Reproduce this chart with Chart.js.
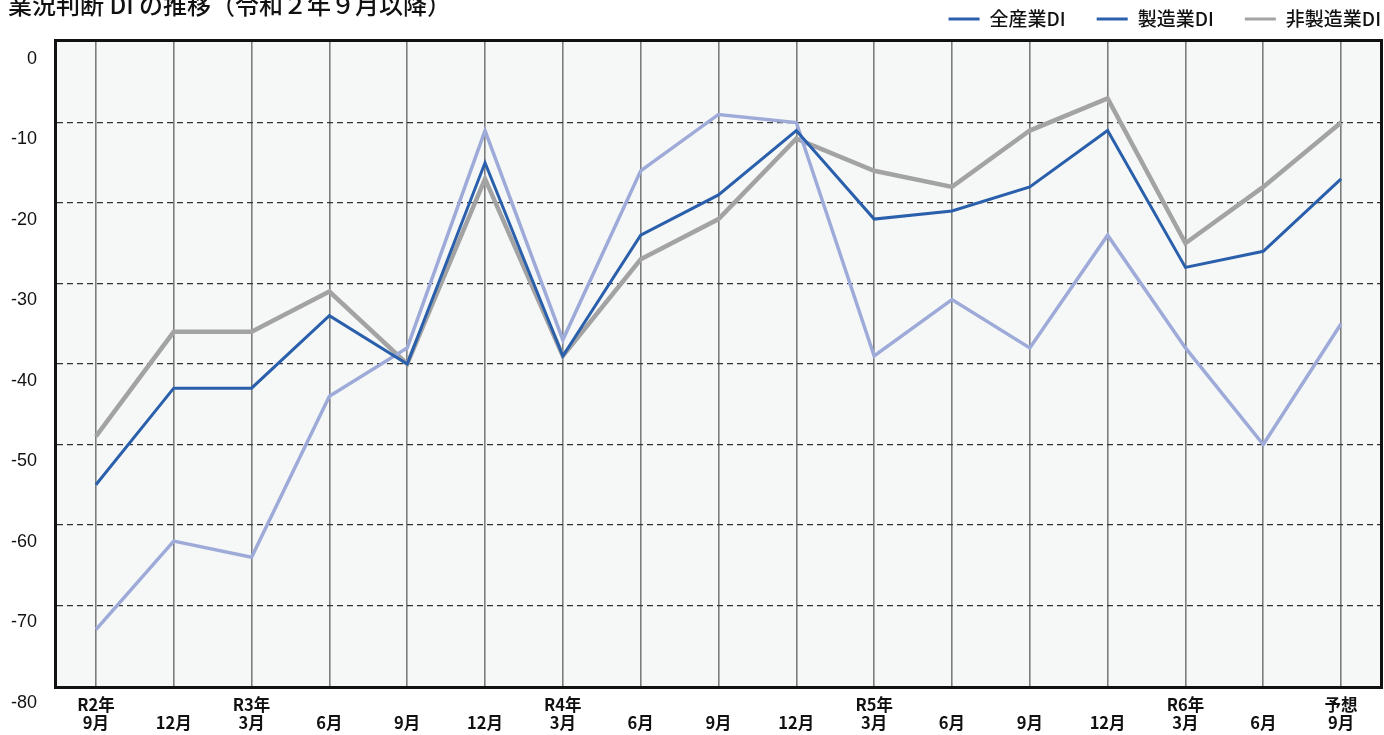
<!DOCTYPE html>
<html lang="ja">
<head>
<meta charset="utf-8">
<title>業況判断 DI の推移</title>
<script src="https://cdn.jsdelivr.net/npm/chart.js@4.4.1/dist/chart.umd.min.js"></script>
<style>
  html, body { margin: 0; padding: 0; background: #ffffff; }
  #wrap { position: relative; width: 1384px; height: 735px; }
</style>
</head>
<body>
<div id="wrap"><canvas id="chart" width="1384" height="735"></canvas></div>
<script>
// 四半期ごとの調査時点（上段：年、下段：月）
const periodYears  = ['R2年', '', 'R3年', '', '', '', 'R4年', '', '', '', 'R5年', '', '', '', 'R6年', '', '予想'];
const periodMonths = ['9月', '12月', '3月', '6月', '9月', '12月', '3月', '6月', '9月', '12月', '3月', '6月', '9月', '12月', '3月', '6月', '9月'];

// 業況判断DI
const allIndustryDI      = [-55, -43, -43, -34, -40, -15, -39, -24, -19, -11, -22, -21, -18, -11, -28, -26, -17];
const manufacturingDI    = [-73, -62, -64, -44, -38, -11, -37, -16, -9, -10, -39, -32, -38, -24, -38, -50, -35];
const nonManufacturingDI = [-49, -36, -36, -31, -40, -17, -39, -27, -22, -12, -16, -18, -11, -7, -25, -18, -10];

const seriesNames = ['全産業DI', '製造業DI', '非製造業DI'];
const yTicks = [0, -10, -20, -30, -40, -50, -60, -70, -80];

const titleText = '業況判断 DI の推移（令和２年９月以降）';

const DARK_BLUE = '#2a5fab';
const LIGHT_BLUE = '#9eabd8';
const GRAY = '#a3a3a3';
const legendSwatches = [DARK_BLUE, DARK_BLUE, GRAY];

const labels = periodMonths.map((m, i) => [periodYears[i], m]);

const JP_FONT = '"Noto Sans CJK JP", "Noto Sans", sans-serif';

// 描画領域の背景
const plotBackground = {
  id: 'plotBackground',
  beforeDraw(chart) {
    const { ctx, chartArea: a } = chart;
    ctx.save();
    ctx.fillStyle = '#f6f8f8';
    ctx.fillRect(a.left, a.top, a.right - a.left, a.bottom - a.top);
    ctx.restore();
  }
};

// 外枠・タイトル・凡例
const frameAndLegend = {
  id: 'frameAndLegend',
  afterDraw(chart) {
    const { ctx, chartArea: a } = chart;
    ctx.save();
    // 外枠
    ctx.strokeStyle = '#111111';
    ctx.lineWidth = 3;
    ctx.strokeRect(a.left - 1.5, a.top - 1.5, a.right - a.left + 3, a.bottom - a.top + 3);

    // タイトル
    ctx.fillStyle = '#111111';
    ctx.font = '500 24px ' + JP_FONT;
    ctx.textBaseline = 'alphabetic';
    ctx.textAlign = 'left';
    ctx.fillText(titleText, 8, 14);

    // 凡例（右寄せ）
    ctx.font = '500 19px ' + JP_FONT;
    ctx.textBaseline = 'middle';
    const swatchW = 31, swatchGap = 10, itemGap = 31, legendY = 19;
    let x = 1381;
    const items = seriesNames.map((name, i) => ({ name, color: legendSwatches[i], w: ctx.measureText(name).width }));
    for (let i = items.length - 1; i >= 0; i--) {
      const it = items[i];
      const textX = x - it.w;
      const swX = textX - swatchGap - swatchW;
      ctx.fillStyle = '#111111';
      ctx.fillText(it.name, textX, legendY);
      ctx.strokeStyle = it.color;
      ctx.lineWidth = 3;
      ctx.beginPath();
      ctx.moveTo(swX, legendY);
      ctx.lineTo(swX + swatchW, legendY);
      ctx.stroke();
      x = swX - itemGap;
    }
    ctx.restore();
  }
};

new Chart(document.getElementById('chart'), {
  type: 'line',
  data: {
    labels,
    datasets: [
      { label: seriesNames[0], data: allIndustryDI, borderColor: DARK_BLUE, borderWidth: 3 },
      { label: seriesNames[1], data: manufacturingDI, borderColor: LIGHT_BLUE, borderWidth: 3.5 },
      { label: seriesNames[2], data: nonManufacturingDI, borderColor: GRAY, borderWidth: 4.5 }
    ]
  },
  options: {
    responsive: false,
    animation: false,
    devicePixelRatio: 1,
    layout: { padding: { top: 42, right: 4, left: 0, bottom: 0 } },
    elements: {
      point: { radius: 0, hoverRadius: 0 },
      line: { tension: 0, borderJoinStyle: 'miter', fill: false }
    },
    plugins: {
      legend: { display: false },
      title: { display: false },
      tooltip: { enabled: false }
    },
    scales: {
      x: {
        type: 'category',
        offset: true,
        grid: { offset: false, color: '#7c7c7c', lineWidth: 1.6, drawTicks: false },
        border: { display: false },
        ticks: {
          autoSkip: false,
          maxRotation: 0,
          padding: 10,
          color: '#111111',
          font: { family: JP_FONT, size: 16.5, weight: '600', lineHeight: 1.1 }
        },
        afterFit(scale) { scale.height = 49; }
      },
      y: {
        min: -80,
        max: 0,
        afterBuildTicks(scale) { scale.ticks = yTicks.map(v => ({ value: v })); },
        grid: {
          color: (c) => (c.tick && (c.tick.value === 0 || c.tick.value === -80)) ? 'rgba(0,0,0,0)' : '#333333',
          lineWidth: 1.2,
          drawTicks: false
        },
        border: { display: false, dash: [6, 4] },
        ticks: {
          padding: 20,
          labelOffset: 17,
          color: '#111111',
          font: { family: '"Liberation Sans", Arial, sans-serif', size: 18 }
        },
        afterFit(scale) { scale.width = 57; }
      }
    }
  },
  plugins: [plotBackground, frameAndLegend]
});
</script>
</body>
</html>
